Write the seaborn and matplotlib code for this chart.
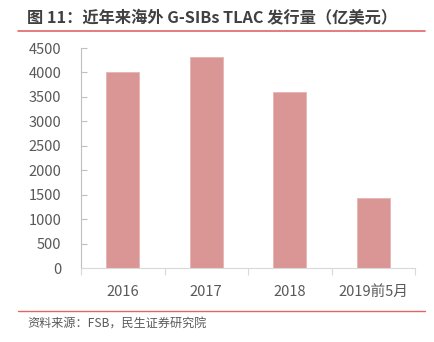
import matplotlib
matplotlib.use("Agg")
import matplotlib.pyplot as plt
import seaborn as sns
import pandas as pd
import numpy as np
from matplotlib.lines import Line2D

categories = ["2016", "2017", "2018", "2019前5月"]
values = [4000, 4320, 3590, 1430]
yticks = [0, 500, 1000, 1500, 2000, 2500, 3000, 3500, 4000, 4500]

title = "图 11：近年来海外 G-SIBs TLAC 发行量（亿美元）"
source = "资料来源：FSB，民生证券研究院"

sns.set_theme(style="white")
plt.rcParams['font.family'] = ['Noto Sans CJK SC', 'DejaVu Sans']

df = pd.DataFrame({"cat": categories, "val": values})

fig = plt.figure(figsize=(4.35, 3.42), dpi=100)
ax = fig.add_axes([81/435, 1-268/342, (415-81)/435, 220/342])

sns.barplot(data=df, x="cat", y="val", color="#d99694", width=0.4,
            saturation=1, ax=ax, edgecolor="#e6b4b2", linewidth=0.6)

ax.set_ylim(0, 4500)
ax.set_xlim(-0.5, len(categories)-0.5)
ax.set_yticks(yticks)
ax.set_yticklabels([str(v) for v in yticks], fontsize=10.5, color="#595959")
ax.set_xlabel("")
ax.set_ylabel("")
ax.tick_params(axis='y', direction='in', length=4, color="#bfbfbf", width=0.8, pad=14, left=True)
ax.tick_params(axis='x', which='major', length=0, pad=12, labelsize=10.5, labelcolor="#595959")
ax.set_xticks(np.arange(len(categories)+1)-0.5, minor=True)
ax.tick_params(axis='x', which='minor', length=5, color="#d9d9d9", width=0.8, bottom=True, direction='out')

for s in ["top", "right"]:
    ax.spines[s].set_visible(False)
ax.spines["left"].set_color("#bfbfbf")
ax.spines["left"].set_linewidth(0.8)
ax.spines["bottom"].set_color("#d9d9d9")
ax.spines["bottom"].set_linewidth(0.8)
ax.grid(False)

fig.text(27/435, 1-18/342, title, fontsize=11.7, fontweight='bold', color="#404040",
         ha='left', va='center')
fig.add_artist(Line2D([18/435, 425/435], [1-31/342, 1-31/342], color="#e06666", linewidth=1.2))
fig.add_artist(Line2D([18/435, 425/435], [1-311/342, 1-311/342], color="#e06666", linewidth=1.0))
fig.text(27/435, 1-324/342, source, fontsize=8.7, color="#595959", ha='left', va='center')

fig.savefig("out.png", dpi=100)
